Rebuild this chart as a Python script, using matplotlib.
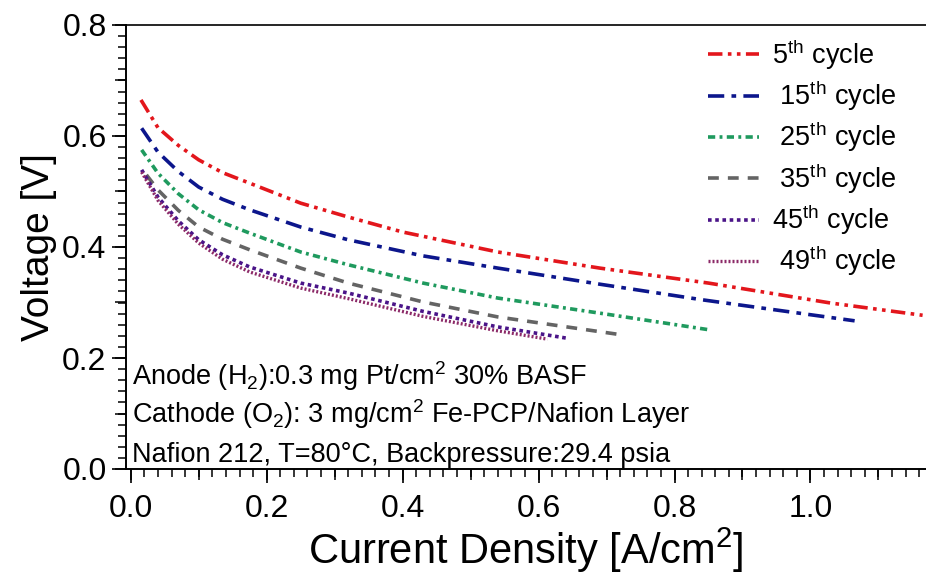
import matplotlib
matplotlib.use("Agg")
import matplotlib.pyplot as plt
from matplotlib.ticker import MultipleLocator

plt.rcParams['font.family'] = ['Liberation Sans', 'DejaVu Sans']
plt.rcParams['mathtext.fontset'] = 'custom'
plt.rcParams['mathtext.rm'] = 'Liberation Sans'
plt.rcParams['mathtext.it'] = 'Liberation Sans:italic'
plt.rcParams['mathtext.bf'] = 'Liberation Sans:bold'

# polarization curves
x5 = [0.015, 0.04, 0.07, 0.10, 0.135, 0.175, 0.25, 0.32, 0.40, 0.54, 0.69, 0.85, 1.03, 1.165]
y5 = [0.665, 0.615, 0.583, 0.557, 0.534, 0.515, 0.479, 0.454, 0.427, 0.391, 0.362, 0.335, 0.299, 0.277]

x15 = [0.016, 0.04, 0.07, 0.10, 0.135, 0.175, 0.25, 0.32, 0.43, 0.54, 0.69, 0.84, 1.065]
y15 = [0.614, 0.571, 0.536, 0.508, 0.486, 0.467, 0.436, 0.413, 0.384, 0.362, 0.333, 0.305, 0.267]

x25 = [0.016, 0.04, 0.07, 0.10, 0.135, 0.175, 0.25, 0.32, 0.43, 0.54, 0.70, 0.85]
y25 = [0.575, 0.533, 0.496, 0.467, 0.444, 0.425, 0.391, 0.368, 0.335, 0.308, 0.279, 0.251]

x35 = [0.023, 0.04, 0.07, 0.10, 0.135, 0.175, 0.25, 0.32, 0.43, 0.54, 0.715]
y35 = [0.530, 0.503, 0.466, 0.436, 0.414, 0.395, 0.362, 0.335, 0.301, 0.274, 0.243]

x45 = [0.016, 0.04, 0.07, 0.10, 0.135, 0.175, 0.25, 0.32, 0.43, 0.54, 0.64]
y45 = [0.539, 0.490, 0.447, 0.413, 0.386, 0.364, 0.335, 0.317, 0.284, 0.256, 0.236]

x49 = [0.016, 0.04, 0.07, 0.10, 0.135, 0.175, 0.25, 0.32, 0.43, 0.54, 0.613]
y49 = [0.535, 0.484, 0.441, 0.407, 0.378, 0.355, 0.326, 0.307, 0.275, 0.249, 0.234]

labels = ['5$^{\\mathrm{th}}$ cycle', ' 15$^{\\mathrm{th}}$ cycle', ' 25$^{\\mathrm{th}}$ cycle',
          ' 35$^{\\mathrm{th}}$ cycle', '45$^{\\mathrm{th}}$ cycle', ' 49$^{\\mathrm{th}}$ cycle']

notes = ['Anode (H$_2$):0.3 mg Pt/cm$^2$ 30% BASF',
         'Cathode (O$_2$): 3 mg/cm$^2$ Fe-PCP/Nafion Layer',
         'Nafion 212, T=80°C, Backpressure:29.4 psia']

fig = plt.figure(figsize=(9.26, 5.81), dpi=100)
ax = fig.add_axes([126/926, 112/581, 800/926, 444/581])

ax.plot(x5, y5, color='#e3161c', lw=2.6, ls=(0, (4, 1.5, 1, 1.5, 1, 1.5)), label=labels[0])
ax.plot(x15, y15, color='#0c168c', lw=2.6, ls=(0, (4.5, 2, 1.3, 2)), label=labels[1])
ax.plot(x25, y25, color='#1f9a5e', lw=2.6, ls=(0, (2, 1.2, 0.8, 1.2)), label=labels[2])
ax.plot(x35, y35, color='#646464', lw=2.6, ls=(0, (3, 2.5)), label=labels[3])
ax.plot(x45, y45, color='#4a1488', lw=2.6, ls=(0, (1, 1)), label=labels[4])
ax.plot(x49, y49, color='#8c2a68', lw=2.4, ls=(0, (0.6, 0.6)), label=labels[5])

ax.set_xlim(-0.007, 1.17)
ax.set_ylim(0, 0.8)

ax.xaxis.set_major_locator(MultipleLocator(0.2))
ax.xaxis.set_minor_locator(MultipleLocator(0.02))
ax.yaxis.set_major_locator(MultipleLocator(0.2))
ax.yaxis.set_minor_locator(MultipleLocator(0.02))
ax.xaxis.set_major_formatter(lambda v, p: f'{v:.1f}')
ax.yaxis.set_major_formatter(lambda v, p: f'{v:.1f}')

ax.tick_params(which='major', direction='out', length=10, width=1.2, labelsize=23)
ax.tick_params(which='minor', direction='out', length=5.5, width=1.1)
ax.tick_params(axis='x', pad=8)
ax.tick_params(axis='y', pad=4)

# medium ticks at every 0.1
secx = ax.secondary_xaxis('bottom')
secx.xaxis.set_major_locator(MultipleLocator(0.1))
secx.tick_params(direction='out', length=8, width=1.1, labelbottom=False)
secy = ax.secondary_yaxis('left')
secy.yaxis.set_major_locator(MultipleLocator(0.1))
secy.tick_params(direction='out', length=8, width=1.1, labelleft=False)
for s in (secx, secy):
    for sp in s.spines.values():
        sp.set_linewidth(1.2)

ax.spines['right'].set_visible(False)
for sp in ('left', 'bottom', 'top'):
    ax.spines[sp].set_linewidth(1.2)

ax.set_xlabel('Current Density [A/cm$^2$]', fontsize=30, labelpad=1)
ax.set_ylabel('Voltage [V]', fontsize=28, labelpad=4)

note_y = [0.151, 0.083, 0.0126]
for t, yy in zip(notes, note_y):
    ax.text(0.002, yy, t, fontsize=19.5, ha='left', va='baseline')

ax.legend(loc='upper left', bbox_to_anchor=(0.7275, 0.972), frameon=False,
          fontsize=19.5, handlelength=1.9, handletextpad=0.45, labelspacing=0.25,
          borderaxespad=0, borderpad=0)

fig.savefig('out.png', dpi=100)
